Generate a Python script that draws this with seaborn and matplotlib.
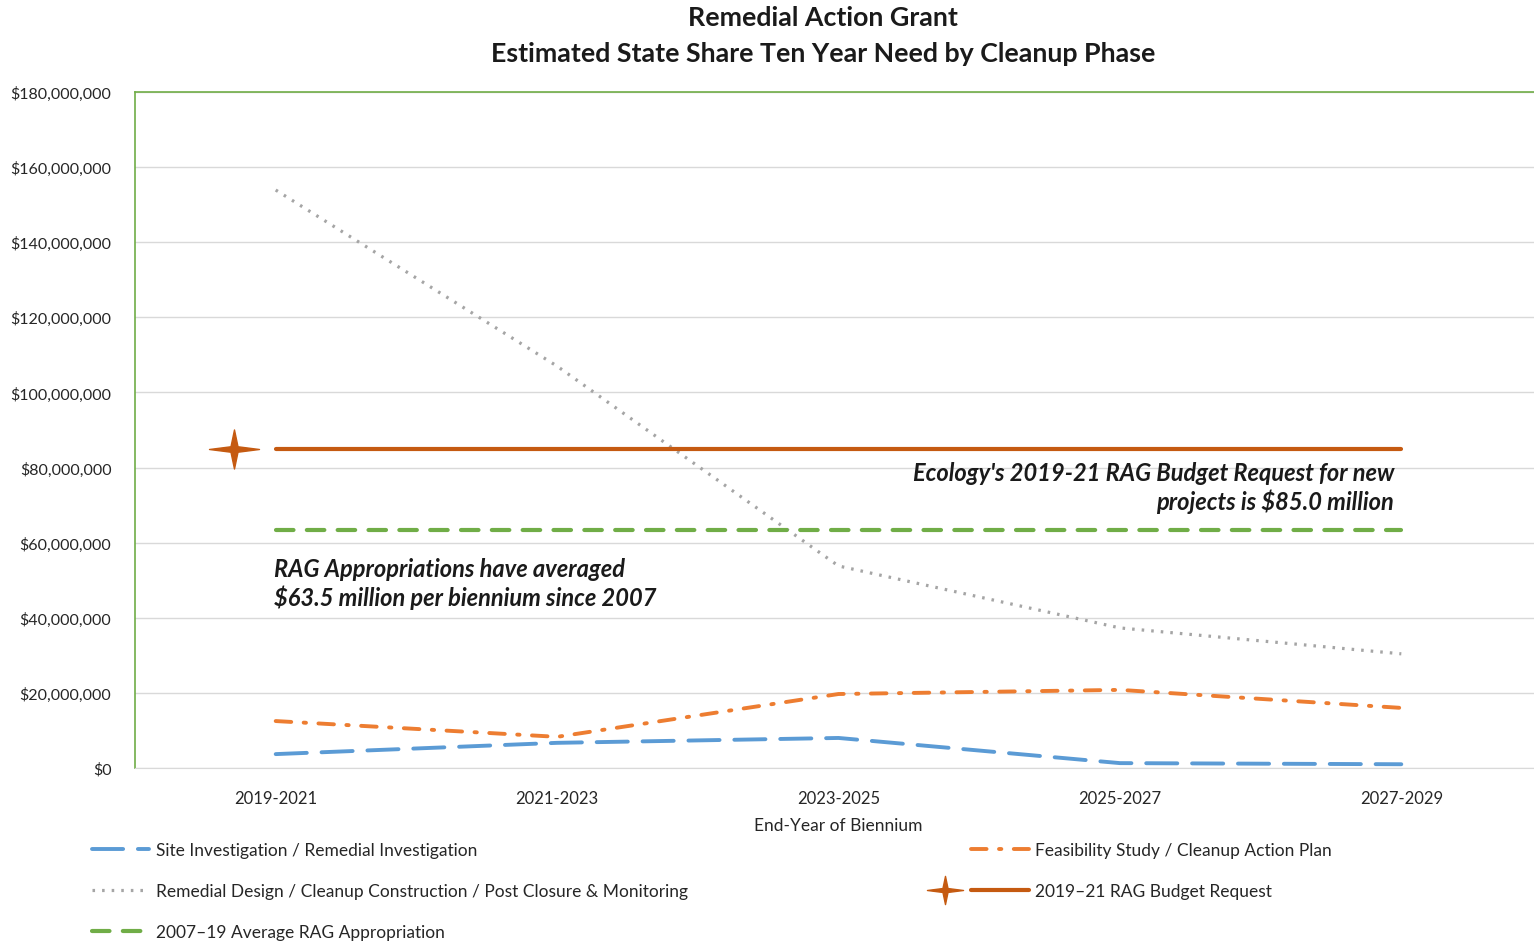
import numpy as np
import pandas as pd
import matplotlib
matplotlib.use("Agg")
import matplotlib.pyplot as plt
import seaborn as sns
from matplotlib.path import Path
from matplotlib.lines import Line2D
from matplotlib.legend_handler import HandlerLine2D
from matplotlib.ticker import FuncFormatter, MultipleLocator

# dados
bienios = ["2019-2021", "2021-2023", "2023-2025", "2025-2027", "2027-2029"]
site_investigation = [3.7e6, 6.7e6, 8.0e6, 1.3e6, 1.0e6]
feasibility_study = [12.5e6, 8.3e6, 19.7e6, 20.8e6, 16.0e6]
remedial_design = [153.9e6, 107.0e6, 53.8e6, 37.3e6, 30.4e6]
budget_request = 85.0e6
average_appropriation = 63.5e6

nomes = ["Site Investigation / Remedial Investigation",
         "Feasibility Study / Cleanup Action Plan",
         "Remedial Design / Cleanup Construction / Post Closure & Monitoring",
         "2019\u201321 RAG Budget Request",
         "2007\u201319 Average RAG Appropriation"]

sns.set_style("white")
plt.rcParams["font.family"] = ["Lato", "DejaVu Sans"]

tabela = pd.DataFrame({
    "pos": np.arange(len(bienios)),
    "site": site_investigation,
    "feas": feasibility_study,
    "rd": remedial_design,
    "budget": [budget_request] * len(bienios),
    "media": [average_appropriation] * len(bienios),
})

fig = plt.figure(figsize=(15.34, 9.45), dpi=100)
ax = fig.add_axes([135 / 1534, 1 - 769 / 945, (1542 - 135) / 1534, (769 - 93) / 945])

azul, laranja, cinza, ferrugem, verde = "#5B9BD5", "#ED7D31", "#A5A5A5", "#C55A11", "#70AD47"

sns.lineplot(data=tabela, x="pos", y="site", ax=ax, color=azul, lw=2.8,
             linestyle=(0, (8, 3.8)), dash_capstyle="round", label=nomes[0])
sns.lineplot(data=tabela, x="pos", y="feas", ax=ax, color=laranja, lw=2.8,
             linestyle=(0, (4, 3.2, 0.6, 3.2)), dash_capstyle="round", label=nomes[1])
sns.lineplot(data=tabela, x="pos", y="rd", ax=ax, color=cinza, lw=2.3,
             linestyle=(0, (0.8, 2.2)), dash_capstyle="butt", label=nomes[2])
sns.lineplot(data=tabela, x="pos", y="budget", ax=ax, color=ferrugem, lw=3.0,
             solid_capstyle="round", label=nomes[3])
sns.lineplot(data=tabela, x="pos", y="media", ax=ax, color=verde, lw=3.0,
             linestyle=(0, (4.2, 3.2)), dash_capstyle="round", label=nomes[4])

# estrela de 4 pontas
verts = [(-1.28, 0), (-0.18, 0.14), (0, 1), (0.18, 0.14), (1.28, 0),
         (0.18, -0.14), (0, -1), (-0.18, -0.14), (-1.28, 0)]
estrela = Path(verts, [Path.MOVETO] + [Path.LINETO] * 7 + [Path.CLOSEPOLY])
ax.plot([tabela["pos"].iloc[0] - 0.148], [budget_request], marker=estrela,
        markersize=36, color=ferrugem, linestyle="none")

ax.set_xlim(-0.5, 4.5)
ax.set_ylim(0, 180e6)
ax.yaxis.set_major_locator(MultipleLocator(20e6))
ax.yaxis.set_major_formatter(FuncFormatter(lambda v, p: f"${v:,.0f}"))
ax.set_xticks(tabela["pos"])
ax.set_xticklabels(bienios)
ax.set_xticks(np.arange(0.5, 4, 1), minor=True)
ax.tick_params(axis="x", which="major", length=0, pad=16, labelsize=12, labelcolor="#262626")
ax.tick_params(axis="x", which="minor", length=7, color="#d9d9d9", width=1)
ax.tick_params(axis="y", length=0, pad=17, labelsize=11.5, labelcolor="#262626")
ax.grid(axis="y", color="#d9d9d9", lw=1)
ax.set_axisbelow(True)
ax.set_xlabel("End-Year of Biennium", fontsize=12.5, color="#262626", labelpad=8)
ax.set_ylabel("")

for s in ["left", "top"]:
    ax.spines[s].set_color(verde)
    ax.spines[s].set_linewidth(1.2)
ax.spines["right"].set_visible(False)
ax.spines["bottom"].set_color("#d9d9d9")

ax.text(3.975, 81.8e6, "Ecology's 2019-21 RAG Budget Request for new\nprojects is $85.0 million",
        ha="right", va="top", fontsize=17, fontweight="bold", fontstyle="italic",
        linespacing=1.22, color="#1a1a1a")
ax.text(-0.007, 56.3e6, "RAG Appropriations have averaged\n$63.5 million per biennium since 2007",
        ha="left", va="top", fontsize=17, fontweight="bold", fontstyle="italic",
        linespacing=1.22, color="#1a1a1a")

fig.text(823 / 1534, 1 - 18 / 945, "Remedial Action Grant", ha="center", va="center",
         fontsize=19.3, fontweight="bold", color="#1a1a1a")
fig.text(823 / 1534, 1 - 54 / 945, "Estimated State Share Ten Year Need by Cleanup Phase",
         ha="center", va="center", fontsize=19.3, fontweight="bold", color="#1a1a1a")


class HandlerEstrela(HandlerLine2D):
    # linha normal com a estrela a esquerda, como no Excel
    def create_artists(self, legend, orig_handle, xdescent, ydescent, width, height, fontsize, trans):
        arts = super().create_artists(legend, orig_handle, xdescent, ydescent, width, height, fontsize, trans)
        st = Line2D([-xdescent - 0.45 * width], [height / 2 - ydescent], marker=estrela,
                    markersize=26, color=ferrugem, linestyle="none")
        st.set_transform(trans)
        return list(arts) + [st]


# legenda
ax.get_legend().remove()
linhas = ax.get_lines()
handles = [linhas[0], linhas[2], linhas[4], linhas[1], linhas[3]]
labels = [nomes[0], nomes[2], nomes[4], nomes[1], nomes[3]]
fig.legend(handles, labels, ncol=2, loc="upper left", bbox_to_anchor=(92 / 1534, 1 - 843 / 945),
           frameon=False, fontsize=12.5, handlelength=3.3, handletextpad=0.4,
           labelspacing=1.45, columnspacing=16.3, borderpad=0, borderaxespad=0,
           handler_map={linhas[3]: HandlerEstrela()}, labelcolor="#262626")

fig.savefig("out.png", dpi=100)
